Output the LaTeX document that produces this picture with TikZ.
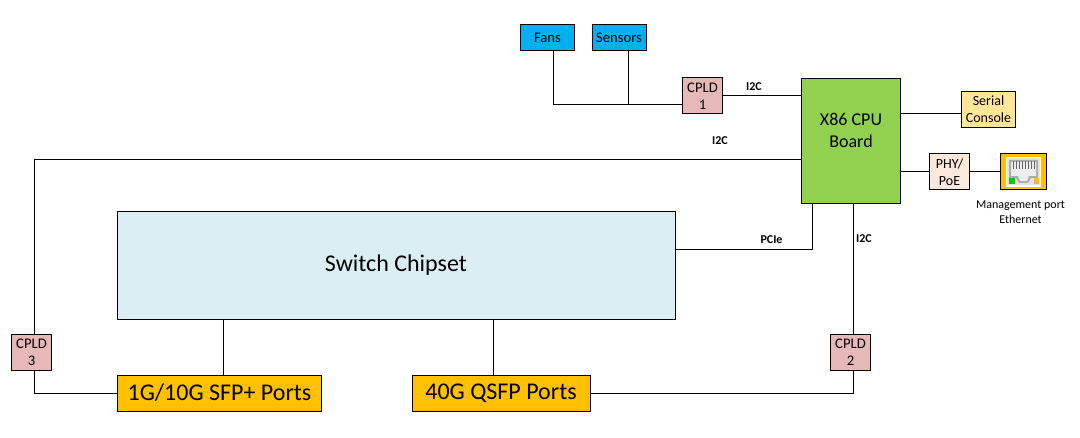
\documentclass[tikz,border=0pt]{standalone}
\usepackage{fontspec}
\setmainfont{Carlito}
\definecolor{fanblue}{HTML}{00B0F0}
\definecolor{cpldpink}{HTML}{E6B8B7}
\definecolor{cpugreen}{HTML}{92D050}
\definecolor{serialyellow}{HTML}{FFE699}
\definecolor{phypeach}{HTML}{FBE9DD}
\definecolor{chipblue}{HTML}{DAEEF3}
\definecolor{portorange}{HTML}{FFC000}
\begin{document}
\begin{tikzpicture}[
    x=0.75pt,y=-0.75pt,
    box/.style={draw,line width=0.75pt,inner sep=0pt,align=center},
    small/.style={box,fill=fanblue,minimum width=40.5pt,minimum height=20pt,font=\fontsize{11}{13}\selectfont},
    cpld/.style={box,fill=cpldpink,minimum width=30pt,minimum height=27pt,font=\fontsize{11}{12.75}\selectfont},
    port/.style={box,fill=portorange,minimum height=27pt,font=\fontsize{18}{20}\selectfont},
    busname/.style={font=\bfseries\fontsize{9}{11}\selectfont,inner sep=0pt},
    wire/.style={line width=0.75pt}
]
\useasboundingbox (0,0) rectangle (1080,438);

\node[small] (fans)    at (547.5,37.5) {Fans};
\node[small] (sensors) at (619,37.5)   {Sensors};
\node[cpld]  (cpld1)   at (702.5,96)   {CPLD\\1};
\node[box,fill=cpugreen,minimum width=74pt,minimum height=94pt,font=\fontsize{13.5}{16.5}\selectfont] (cpu) at (851,141) {X86 CPU\\Board\\\mbox{}};
\node[box,fill=serialyellow,minimum width=41pt,minimum height=26.5pt,font=\fontsize{10.5}{12.5}\selectfont] (serial) at (988.5,109.5) {Serial\\Console};
\node[box,fill=phypeach,minimum width=30.5pt,minimum height=27pt,font=\fontsize{10.5}{12.75}\selectfont] (phy) at (949.5,172) {PHY/\\PoE};
\node[box,fill=portorange,minimum width=34pt,minimum height=27pt] (mgmt) at (1023.5,172) {};
\node[box,fill=chipblue,minimum width=418.5pt,minimum height=81pt,font=\fontsize{18}{21}\selectfont] (chip) at (396,265.5) {Switch Chipset};
\node[cpld]  (cpld3)   at (31.5,352)   {CPLD\\3};
\node[cpld]  (cpld2)   at (850.5,352)  {CPLD\\2};
\node[port,minimum width=153.5pt] (sfp)  at (219.5,393) {1G/10G SFP+ Ports};
\node[port,minimum width=133.5pt] (qsfp) at (501,393)   {40G QSFP Ports};

% rj45 icon
\fill[gray!20,draw=white,line width=1pt] (1006.5,157.5) rectangle (1040.5,186);
\fill[gray!65] (1009,160) -- (1038,160) -- (1038,178) -- (1031,178) -- (1028,183) -- (1019,183) -- (1016,178) -- (1009,178) -- cycle;
\fill[gray!15] (1011,162) -- (1036,162) -- (1036,176) -- (1029,176) -- (1027,181) -- (1020,181) -- (1018,176) -- (1011,176) -- cycle;
\foreach \i in {0,...,7} \fill[gray!80!black] (1012.5+\i*3,161) rectangle +(1.7,8);
\fill[green!80!black] (1008.5,178.5) rectangle (1014.5,184.5);
\fill[portorange] (1033.5,178.5) rectangle (1039,184.5);

\coordinate (fanjoin)  at (553,105);
\coordinate (senjoin)  at (628,105);
\coordinate (pciebend) at (812,249);
\coordinate (leftbend) at (34,159.5);
\coordinate (sfpbend)  at (34,393);
\coordinate (qsfpbend) at (853,393);
\coordinate (cpltop)   at (853,204);
\coordinate (cpuser)   at (900,114);
\coordinate (cpuphy)   at (900,172);
\coordinate (sfpdrop)  at (223,319);
\coordinate (qsfpdrop) at (493,319);

\draw[wire] (fans.south -| fanjoin) -- (fanjoin) -- (cpld1.west |- fanjoin);
\draw[wire] (sensors.south -| senjoin) -- (senjoin);
\draw[wire] (cpld1.east) -- (cpu.west |- cpld1.east);
\draw[wire] (cpu.west |- leftbend) -- (leftbend) -- (cpld3.north -| leftbend);
\draw[wire] (cpld3.south -| sfpbend) -- (sfpbend) -- (sfp.west);
\draw[wire] (chip.east |- pciebend) -- (pciebend) -- (cpu.south -| pciebend);
\draw[wire] (cpu.south -| cpltop) -- (cpld2.north -| cpltop);
\draw[wire] (cpld2.south -| qsfpbend) -- (qsfpbend) -- (qsfp.east);
\draw[wire] (sfpdrop) -- (sfp.north -| sfpdrop);
\draw[wire] (qsfpdrop) -- (qsfp.north -| qsfpdrop);
\draw[wire] (cpuser) -- (serial.west |- cpuser);
\draw[wire] (cpuphy) -- (phy.west |- cpuphy);
\draw[wire] (phy.east) -- (mgmt.west);

\node[busname] (busa) at (754,87)  {I2C};
\node[busname] (busb) at (720,141) {I2C};
\node[busname] (busc) at (864,239) {I2C};
\node[busname] (busd) at (771.5,240) {PCIe};
\node[font=\fontsize{9}{11.25}\selectfont,align=center,inner sep=0pt] (mgmtname) at (1020.5,212.5) {Management port\\Ethernet};
\end{tikzpicture}
\end{document}
